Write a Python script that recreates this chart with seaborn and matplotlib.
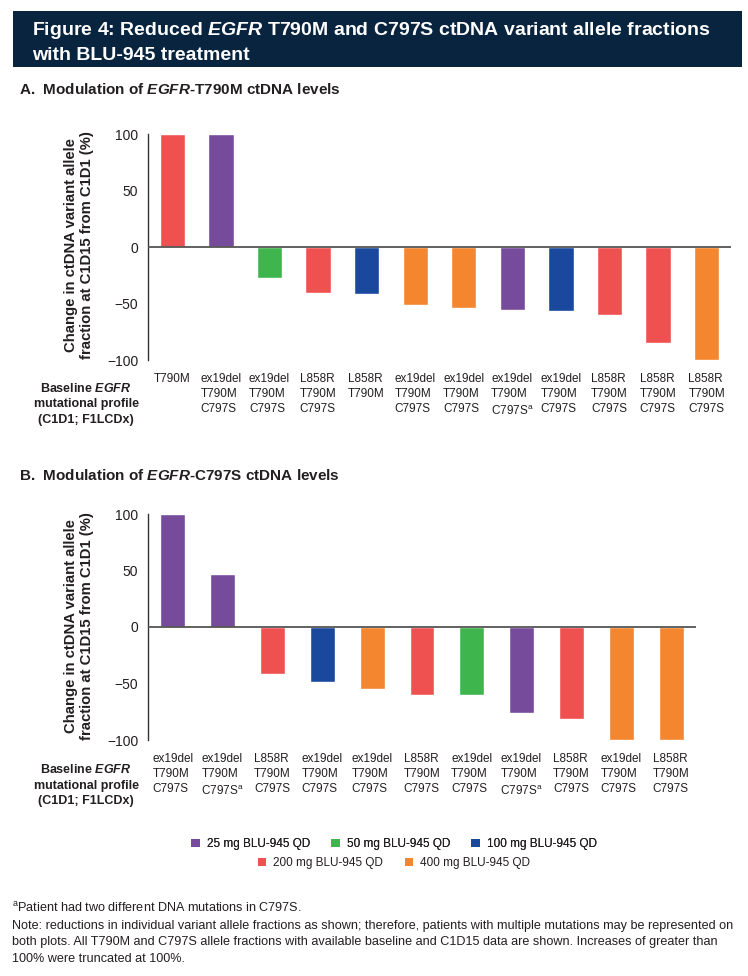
import matplotlib
matplotlib.use("Agg")
import matplotlib.pyplot as plt
import matplotlib.patches as mpatches
import seaborn as sns
import pandas as pd

# Dose groups and colours
doses = ["25 mg BLU-945 QD", "50 mg BLU-945 QD", "100 mg BLU-945 QD",
         "200 mg BLU-945 QD", "400 mg BLU-945 QD"]
dose_colors = ["#764B9B", "#3FB54E", "#1A489D", "#EE5150", "#F3862E"]

# Panel A: EGFR-T790M
a_labels = ["T790M",
            "ex19del\nT790M\nC797S", "ex19del\nT790M\nC797S",
            "L858R\nT790M\nC797S", "L858R\nT790M",
            "ex19del\nT790M\nC797S", "ex19del\nT790M\nC797S",
            "ex19del\nT790M\nC797S$^{\\mathrm{a}}$", "ex19del\nT790M\nC797S",
            "L858R\nT790M\nC797S", "L858R\nT790M\nC797S", "L858R\nT790M\nC797S"]
a_values = [100, 100, -27, -41, -42, -51, -54, -56, -57, -60, -85, -100]
a_doses = ["200 mg BLU-945 QD", "25 mg BLU-945 QD", "50 mg BLU-945 QD",
           "200 mg BLU-945 QD", "100 mg BLU-945 QD", "400 mg BLU-945 QD",
           "400 mg BLU-945 QD", "25 mg BLU-945 QD", "100 mg BLU-945 QD",
           "200 mg BLU-945 QD", "200 mg BLU-945 QD", "400 mg BLU-945 QD"]

# Panel B: EGFR-C797S
b_labels = ["ex19del\nT790M\nC797S", "ex19del\nT790M\nC797S$^{\\mathrm{a}}$",
            "L858R\nT790M\nC797S", "ex19del\nT790M\nC797S",
            "ex19del\nT790M\nC797S", "L858R\nT790M\nC797S",
            "ex19del\nT790M\nC797S", "ex19del\nT790M\nC797S$^{\\mathrm{a}}$",
            "L858R\nT790M\nC797S", "ex19del\nT790M\nC797S", "L858R\nT790M\nC797S"]
b_values = [100, 47, -42, -49, -55, -60, -60, -76, -81, -100, -100]
b_doses = ["25 mg BLU-945 QD", "25 mg BLU-945 QD", "200 mg BLU-945 QD",
           "100 mg BLU-945 QD", "400 mg BLU-945 QD", "200 mg BLU-945 QD",
           "50 mg BLU-945 QD", "25 mg BLU-945 QD", "200 mg BLU-945 QD",
           "400 mg BLU-945 QD", "400 mg BLU-945 QD"]

y_ticks = [-100, -50, 0, 50, 100]
TEXT = "#231F20"
W, H = 748, 976


def fx(px):
    return px / W


def fy(py):
    return 1 - py / H


def draw_panel(fig, rect, labels, values, groups, bar_width):
    ax = fig.add_axes(rect)
    df = pd.DataFrame({"pos": range(len(values)), "value": values, "dose": groups})
    sns.barplot(data=df, x="pos", y="value", hue="dose", hue_order=doses,
                palette=dict(zip(doses, dose_colors)), dodge=False,
                width=bar_width, saturation=1, legend=False, ax=ax)
    ax.axhline(0, color="#555555", lw=1.3, zorder=3)
    ax.set_xlim(-0.5, len(values) - 0.5)
    ax.set_ylim(-100, 100)
    ax.set_yticks(y_ticks)
    ax.set_xticks(range(len(values)))
    ax.set_xticklabels(labels, fontsize=8.5, color=TEXT, linespacing=1.34,
                       multialignment="left")
    ax.tick_params(axis="x", length=0, pad=9.5)
    ax.tick_params(axis="y", length=6, width=1, pad=1, labelsize=10,
                   colors="#333333", labelcolor=TEXT)
    for side in ["top", "right", "bottom"]:
        ax.spines[side].set_visible(False)
    ax.spines["left"].set_color("#333333")
    ax.spines["left"].set_linewidth(1)
    ax.set_xlabel("")
    ax.set_ylabel("")
    return ax


def main():
    sns.set_style("white")
    plt.rcParams.update({
        "font.family": ["Liberation Sans", "DejaVu Sans"],
        "mathtext.fontset": "custom",
        "mathtext.rm": "Liberation Sans",
        "mathtext.it": "Liberation Sans:italic:bold",
        "mathtext.bf": "Liberation Sans:bold",
        "text.color": TEXT,
    })

    fig = plt.figure(figsize=(7.48, 9.76), dpi=100)

    # Title band
    fig.patches.append(mpatches.Rectangle((fx(13), fy(67)), fx(742 - 13), (67 - 11) / H,
                                          transform=fig.transFigure,
                                          facecolor="#08243F", edgecolor="none"))
    fig.text(fx(32), fy(35),
             "Figure 4: Reduced $\\mathit{EGFR}$ T790M and C797S ctDNA variant allele fractions",
             color="white", fontsize=14, fontweight="bold", va="baseline")
    fig.text(fx(32), fy(60), "with BLU-945 treatment",
             color="white", fontsize=14, fontweight="bold", va="baseline")

    # Panel A
    fig.text(fx(19), fy(94), "A.  Modulation of $\\mathit{EGFR}$-T790M ctDNA levels",
             fontsize=11, fontweight="bold", va="baseline")
    draw_panel(fig, [fx(148), fy(360), (731 - 148) / W, 226 / H],
               a_labels, a_values, a_doses, 0.52)

    # Panel B
    fig.text(fx(19), fy(480), "B.  Modulation of $\\mathit{EGFR}$-C797S ctDNA levels",
             fontsize=11, fontweight="bold", va="baseline")
    draw_panel(fig, [fx(148), fy(740), (696 - 148) / W, 226 / H],
               b_labels, b_values, b_doses, 0.5)

    ylab = "Change in ctDNA variant allele\nfraction at C1D15 from C1D1 (%)"
    baseline_lab = "Baseline $\\mathit{EGFR}$\nmutational profile\n(C1D1; F1LCDx)"
    for yc, yb in [(245, 404), (626, 785)]:
        fig.text(fx(79), fy(yc), ylab, rotation=90, fontsize=10.7, fontweight="bold",
                 ha="center", va="center", multialignment="center", linespacing=1.2)
        fig.text(fx(86), fy(yb), baseline_lab, fontsize=9, fontweight="bold",
                 ha="center", va="center", multialignment="center", linespacing=1.36)

    # Legend in two centred rows
    handles = [mpatches.Patch(facecolor=c, edgecolor="none") for c in dose_colors]
    common = dict(loc="center", frameon=False, fontsize=8.5, handlelength=0.7,
                  handleheight=0.7, handletextpad=0.6, columnspacing=1.8,
                  borderpad=0, borderaxespad=0, labelcolor=TEXT)
    leg1 = fig.legend(handles[:3], doses[:3], ncol=3,
                      bbox_to_anchor=(fx(394), fy(844)), **common)
    fig.add_artist(leg1)
    fig.legend(handles[3:], doses[3:], ncol=2,
               bbox_to_anchor=(fx(394), fy(863)), **common)

    # Footnotes
    notes = [
        "$^{\\mathrm{a}}$Patient had two different DNA mutations in C797S.",
        "Note: reductions in individual variant allele fractions as shown; therefore, "
        "patients with multiple mutations may be represented on",
        "both plots. All T790M and C797S allele fractions with available baseline and "
        "C1D15 data are shown. Increases of greater than",
        "100% were truncated at 100%.",
    ]
    for i, line in enumerate(notes):
        fig.text(fx(12), fy(912 + 16.5 * i), line, fontsize=9.1, va="baseline")

    fig.savefig("out.png", dpi=100)
    plt.close(fig)


if __name__ == "__main__":
    main()
